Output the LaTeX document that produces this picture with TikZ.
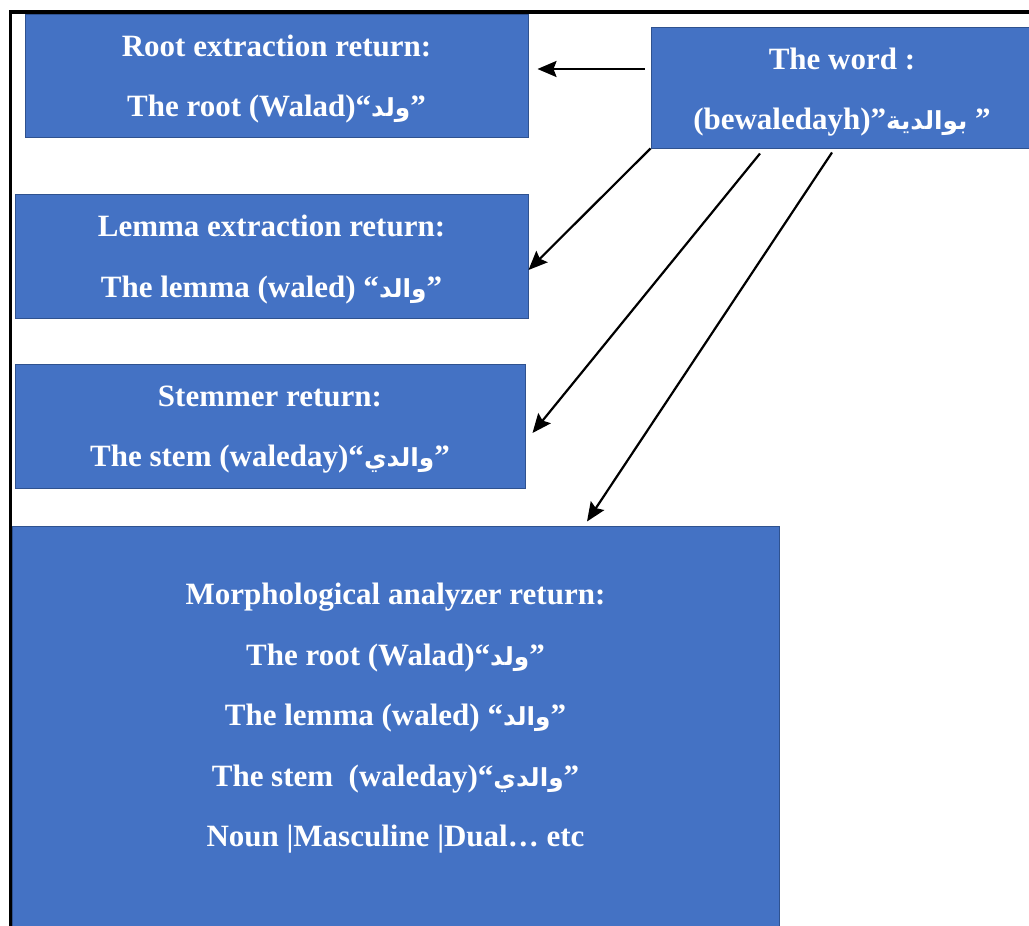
\documentclass[tikz,border=0pt]{standalone}
\usepackage{fontspec}
\setmainfont{Liberation Serif}
\newfontfamily\arabicfont[Script=Arabic,Scale=0.8]{DejaVu Sans}
\TeXXeTstate=1
\usetikzlibrary{arrows.meta}
\definecolor{boxblue}{HTML}{4472C4}
\definecolor{boxedge}{HTML}{2F528F}
\newcommand{\ar}[1]{{\arabicfont\beginR #1\endR}}
\tikzset{
  box/.style={draw=boxedge, line width=1pt, fill=boxblue, inner sep=0pt, rectangle},
  txt/.style={text=white, align=center, font=\bfseries\fontsize{31}{60.5}\selectfont, inner sep=0pt},
  arr/.style={line width=2.2pt, -{Stealth[length=19pt,width=16pt,inset=3pt]}},
}
\begin{document}
\begin{tikzpicture}[x=1pt,y=-1pt]
\useasboundingbox (0,0) rectangle (1029,926);
\clip (0,0) rectangle (1029,926);
% frame
\draw[line width=3.2pt] (10.5,940) -- (10.5,12) -- (1040,12);
% boxes
\node[box, minimum width=503pt, minimum height=123pt] (root) at (276.5,75.5) {};
\node[txt] (roottxt) at ([yshift=-3.5pt]root.center) {Root extraction return:\\The root (Walad)“\ar{ولد}”};
\node[box, minimum width=382pt, minimum height=121pt] (word) at (842,87.5) {};
\node[txt] (wordtxt) at ([yshift=-4.5pt]word.center) {The word :\\(bewaledayh)”\ar{بوالدية} ”};
\node[box, minimum width=513pt, minimum height=124pt] (lemma) at (271.5,256) {};
\node[txt] (lemmatxt) at ([yshift=-3.5pt]lemma.center) {Lemma extraction return:\\The lemma (waled) “\ar{والد}”};
\node[box, minimum width=510pt, minimum height=124pt] (stem) at (270,426) {};
\node[txt] (stemtxt) at ([yshift=-3.5pt]stem.center) {Stemmer return:\\The stem (waleday)“\ar{والدي}”};
\node[box, minimum width=767pt, minimum height=440pt] (morph) at (395.5,746) {};
\node[txt] (morphtxt) at (395.5,718.5) {Morphological analyzer return:\\The root (Walad)“\ar{ولد}”\\The lemma (waled) “\ar{والد}”\\The stem\ \ (waleday)“\ar{والدي}”\\Noun |Masculine |Dual\dots\ etc};
% arrows
\draw[arr] ([yshift=18.5pt,xshift=-6pt]word.west) -- ([yshift=6.5pt,xshift=9pt]root.east);
\draw[arr] (word.south west) -- ([yshift=-14pt]lemma.east);
\draw[arr] ([xshift=-82pt,yshift=-5pt]word.south) -- ([xshift=7pt,yshift=-7pt]stem.east);
\draw[arr] ([xshift=-10pt,yshift=-4pt]word.south) -- ([xshift=191.5pt,yshift=4pt]morph.north);
\end{tikzpicture}
\end{document}
